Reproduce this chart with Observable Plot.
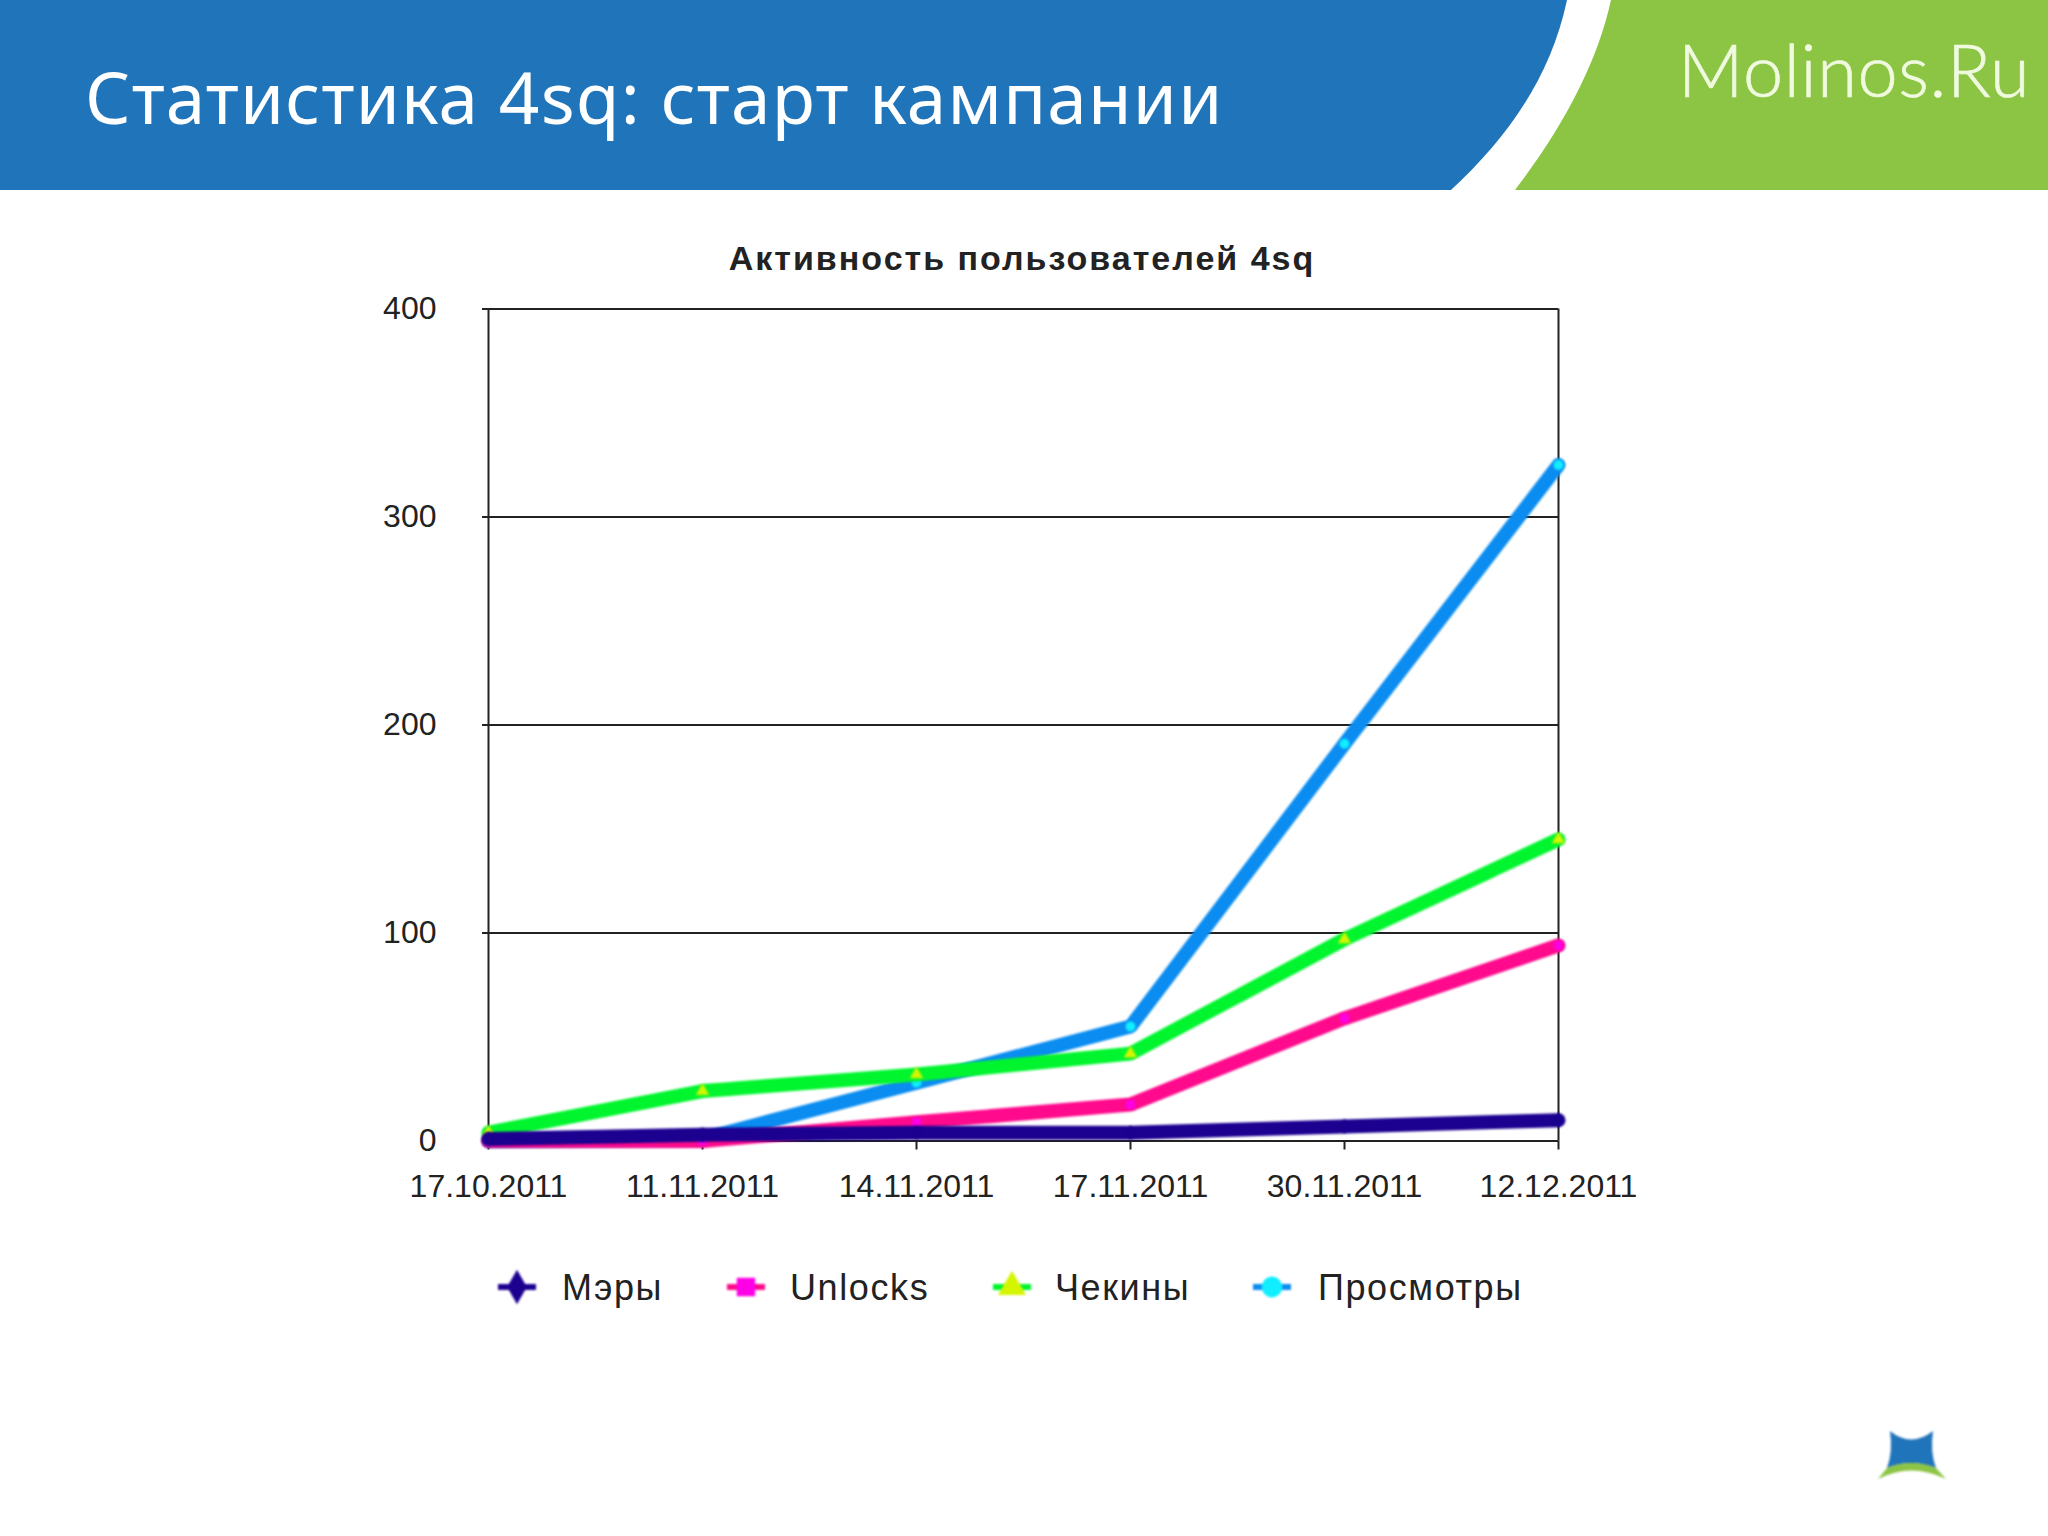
<!DOCTYPE html>
<html lang="ru">
<head>
<meta charset="utf-8">
<script src="https://cdn.jsdelivr.net/npm/d3@7"></script>
<script src="https://cdn.jsdelivr.net/npm/@observablehq/plot@0.6"></script>
<style>
html,body{margin:0;padding:0;background:#fff;}
body{width:2048px;height:1536px;position:relative;overflow:hidden;}
#deco{position:absolute;left:0;top:0;}
#slideTitle{position:absolute;left:85px;top:47px;font:400 71px "Noto Sans",sans-serif;letter-spacing:1.2px;color:#fff;white-space:nowrap;line-height:100px;}
#brand{position:absolute;left:1678px;top:19px;font:300 72px Lato,sans-serif;letter-spacing:0.7px;-webkit-text-stroke:0.7px #f0fadf;color:#f0fadf;white-space:nowrap;line-height:100px;}
#chartTitle{position:absolute;left:-2px;width:2048px;top:239px;text-align:center;font:700 34px "Liberation Sans",sans-serif;letter-spacing:2px;color:#222;}
#chart{position:absolute;left:0;top:200px;}
#legend{position:absolute;left:0;top:1262px;width:2048px;height:54px;font:36px "Liberation Sans",sans-serif;letter-spacing:1.6px;color:#222;}
#legend span{position:absolute;top:6px;line-height:40px;white-space:nowrap;}
#legend svg{position:absolute;top:3px;}
</style>
</head>
<body>
<svg id="deco" width="2048" height="1536">
  <path fill="#2074b9" d="M0,0H1567C1550,80 1505,140 1451,190H0Z"/>
  <path fill="#8cc444" d="M1611,0H2048V190H1515C1565,125 1598,60 1611,0Z"/>
  <g style="filter:blur(1px)">
  <path fill="#2074b9" d="M1890,1431Q1911,1448 1933,1431Q1930,1452 1936,1468Q1911,1458 1887,1468Q1893,1452 1890,1431Z"/>
  <path fill="#8cc444" d="M1887,1468Q1911,1458 1936,1468L1946,1479Q1911,1462 1878,1479Z"/>
  </g>
</svg>
<div id="slideTitle">Статистика 4sq: старт кампании</div>
<div id="brand">Molinos.Ru</div>
<div id="chartTitle">Активность пользователей 4sq</div>
<div id="chart"></div>
<div id="legend"></div>
<script>
const dates = ["17.10.2011","11.11.2011","14.11.2011","17.11.2011","30.11.2011","12.12.2011"];
const mayors = [1,3,4,4,7,10];
const unlocks = [0,0,9,17.5,59,94];
const checkins = [4,24,32,42,97,145];
const views = [0,1,28,55,191,325];
const yTicks = [0,100,200,300,400];
const seriesNames = ["Мэры","Unlocks","Чекины","Просмотры"];
const lineColors = ["#1c0090","#ff0a8c","#00f52e","#0a8cf0"];
const markColors = ["#1c0090","#ff00e6","#d4f500","#11eeff"];
const markSymbols = ["diamond","square","triangle","circle"];
const seriesValues = [mayors,unlocks,checkins,views];
const legendMarkX = [517,746,1012,1272];
const legendTextX = [562,790,1055,1318];

const rows = seriesNames.flatMap((s,i)=>dates.map((d,j)=>({date:d,value:seriesValues[i][j],series:s,idx:i})));
const drawOrder = [3,2,1,0];
const blur = "blur(1px)";
const first = dates[0], last = dates[dates.length-1];

const plot = Plot.plot({
  width:2048,height:1150,
  marginLeft:486,marginRight:488,marginTop:108.5,marginBottom:209.5,
  style:{background:"transparent",fontFamily:"'Liberation Sans',sans-serif",fontSize:"32px",color:"#222"},
  x:{type:"point",domain:dates,padding:0,label:null},
  y:{domain:[0,400],label:null},
  marks:[
    Plot.ruleY(yTicks,{y:d=>d,x1:()=>first,x2:()=>last,stroke:"#222",strokeWidth:2,insetLeft:-6}),
    Plot.ruleX([first,last],{x:d=>d,stroke:"#222",strokeWidth:2}),
    Plot.axisY({ticks:yTicks,tickSize:0,tickPadding:50,tickFormat:d=>d,fontSize:32,fill:"#222",label:null,marginLeft:487}),
    Plot.axisX({ticks:dates,tickSize:9,tickPadding:24,fontSize:32,fill:"#222",stroke:"#222",strokeWidth:2,label:null}),
    ...drawOrder.flatMap(i=>{
      const data = rows.filter(r=>r.idx===i);
      return [
        Plot.line(data,{x:"date",y:"value",stroke:lineColors[i],strokeWidth:14,strokeLinejoin:"miter",imageFilter:blur}),
        Plot.dot(data,{x:"date",y:"value",symbol:()=>markSymbols[i],fill:markColors[i],stroke:"none",r:i===0?4.5:5,imageFilter:blur})
      ];
    })
  ]
});
document.getElementById("chart").appendChild(plot);

const legend = document.getElementById("legend");
seriesNames.forEach((name,i)=>{
  const W=44,H=44;
  const svg = d3.create("svg").attr("width",W).attr("height",H).style("left",(legendMarkX[i]-W/2)+"px").style("filter","blur(0.8px)");
  svg.append("line").attr("x1",3).attr("x2",W-3).attr("y1",H/2).attr("y2",H/2).attr("stroke",lineColors[i]).attr("stroke-width",6);
  const sym = {diamond:d3.symbolDiamond,square:d3.symbolSquare,triangle:d3.symbolTriangle,circle:d3.symbolCircle}[markSymbols[i]];
  svg.append("path").attr("transform",`translate(${W/2},${H/2})`).attr("d",d3.symbol(sym,340)()).attr("fill",markColors[i]);
  legend.appendChild(svg.node());
  const t=document.createElement("span");
  t.textContent=name;t.style.left=legendTextX[i]+"px";
  legend.appendChild(t);
});
</script>
</body>
</html>
